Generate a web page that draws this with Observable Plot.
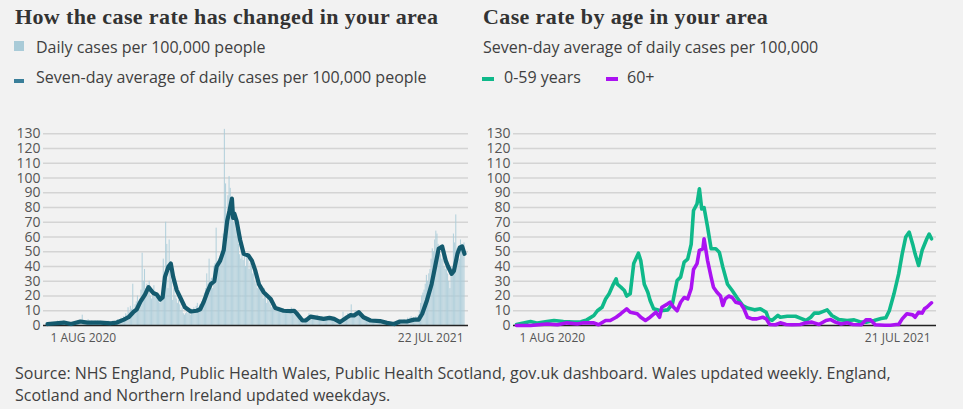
<!DOCTYPE html>
<html><head><meta charset="utf-8">
<script src="https://cdn.jsdelivr.net/npm/d3@7"></script>
<script src="https://cdn.jsdelivr.net/npm/@observablehq/plot@0.6"></script>
<style>
body{margin:0;background:#f2f2f2;}
#wrap{position:relative;width:963px;height:409px;overflow:hidden;font-family:"Open Sans","Noto Sans",sans-serif;color:#404040;}
.t{position:absolute;white-space:nowrap;font-size:16px;line-height:20px;color:#404040;}
.title{position:absolute;white-space:nowrap;font-family:"Liberation Serif",serif;font-weight:bold;font-size:22px;line-height:24px;letter-spacing:0.38px;color:#333;}
.sw{position:absolute;}
.chart{position:absolute;top:120px;}
#caption{position:absolute;left:15px;top:361.8px;width:933px;font-size:16px;line-height:22px;color:#404040;}
</style></head>
<body>
<div id="wrap">
  <div class="title" style="left:15px;top:5px">How the case rate has changed in your area</div>
  <div class="sw" id="swBar" style="left:14px;top:41px;width:10px;height:10px"></div>
  <div class="t" style="left:36px;top:37.1px">Daily cases per 100,000 people</div>
  <div class="sw" id="swAvg" style="left:14px;top:79px;width:10px;height:4px"></div>
  <div class="t" style="left:36px;top:67.1px">Seven-day average of daily cases per 100,000 people</div>

  <div class="title" style="left:483px;top:5px">Case rate by age in your area</div>
  <div class="t" style="left:483px;top:37.1px">Seven-day average of daily cases per 100,000</div>
  <div class="sw" id="swYoung" style="left:482px;top:77px;width:12px;height:4px"></div>
  <div class="t" style="left:504px;top:67.1px">0-59 years</div>
  <div class="sw" id="swOld" style="left:606px;top:77px;width:12px;height:4px"></div>
  <div class="t" style="left:627px;top:67.1px">60+</div>

  <div class="chart" id="left" style="left:0px"></div>
  <div class="chart" id="right" style="left:481px"></div>
  <div id="caption">Source: NHS England, Public Health Wales, Public Health Scotland, gov.uk dashboard. Wales updated weekly. England, Scotland and Northern Ireland updated weekdays.</div>
</div>
<script>
// ---------- data ----------
const startDate = "2020-08-01";
const yTicks = [0,10,20,30,40,50,60,70,80,90,100,110,120,130];

// daily cases per 100,000 (one per day from 1 Aug 2020 to 22 Jul 2021)
const dailyCases = [
 1,0,1,2,1,0,1,
 2,1,3,2,1,1,2,
 3,2,2,1,2,1,1,
 1,0,2,1,2,3,2,
 3,2,7,3,2,2,3,
 4,3,2,3,2,1,3,
 2,3,2,1,2,2,1,
 2,1,2,3,2,1,2,
 3,2,2,3,4,2,3,
 5,4,6,5,8,7,12,
 9,13,11,28,10,14,16,
 20,15,18,24,49,30,38,
 25,28,22,30,20,18,24,
 27,22,19,20,18,15,17,
 20,45,35,70,55,25,58,
 40,30,17,25,20,18,15,
 17,14,10,12,8,7,8,
 9,8,10,7,11,9,12,
 10,13,15,12,14,10,16,
 18,22,25,35,28,45,30,
 32,25,40,42,66,38,45,
 46,48,50,62,133,96,70,
 88,101,93,75,85,70,72,
 65,70,55,48,45,52,44,
 47,40,48,45,38,42,40,
 35,37,30,28,25,32,26,
 24,22,18,25,20,15,18,
 16,14,12,15,13,11,12,
 10,11,12,9,10,11,9,
 10,9,11,8,9,12,10,
 9,8,10,6,5,3,4,
 3,4,3,5,4,6,8,
 7,6,5,6,5,4,7,
 5,4,5,6,4,5,4,
 5,6,4,5,5,4,3,
 3,2,2,3,2,1,3,
 9,4,5,6,8,7,6,
 14,7,8,9,10,8,9,
 7,6,5,5,4,3,4,
 3,4,3,2,3,4,3,
 3,2,3,2,2,3,2,
 1,2,1,1,0,1,2,
 1,2,2,1,3,2,3,
 3,2,3,4,3,3,5,
 4,5,6,4,5,4,6,
 5,7,10,15,20,22,24,
 28,34,30,35,38,45,52,
 50,58,64,62,55,52,48,
 45,50,40,38,42,35,30,
 25,40,38,62,56,75,52,
 50,45,58,55,48,56
];

// seven-day average (day offset from 1 Aug 2020, value)
const avgDays = [0,14,20,28,34,45,54,59,65,69,73,76,79,83,86,88,90,93,96,98,100,103,105,107,110,113,117,122,127,130,133,136,139,142,144,147,150,153,155,157,158,159,161,164,167,171,174,177,180,184,190,194,201,207,210,212,217,220,224,230,235,240,244,249,255,258,261,265,269,275,283,289,295,300,306,312,316,319,323,327,330,333,336,339,341,344,346,349,351,353,355];
const avgValues = [1,2,1,2.7,2,2,1.5,2,4,5.6,9,11,16,21,26,24,22,21,17.6,19,33,40,42,33,24,19,12.4,9.5,10,11,16,22.6,28,30,40,44,51,71,78,86,73,76,71,58,48.6,47.5,44,37,28,22.6,18,11.8,10,9.7,10,8.4,3.4,3.4,6,5.2,4.5,5.2,4.5,2.3,5.6,7,6.8,9,5.6,3.4,3,1.8,1,2.7,2.7,4,4,8,17,28,40,52,53.6,44,40,35,37,48.6,53,53.6,48.6];

// by age, seven-day average (day offset from 1 Aug 2020)
const youngDays = [0,12,18,26,32,40,49,55,60,66,69,73,76,79,82,85,86,89,92,94,97,100,104,106,109,112,114,117,123,129,133,137,140,143,146,149,151,154,156,158,160,163,166,170,173,176,180,184,188,193,197,203,208,213,215,218,223,225,231,238,242,247,251,254,258,265,269,275,282,288,294,299,305,311,315,318,322,326,329,332,335,338,340,343,346,350,352,354];
const youngValues = [0.7,2.7,1.6,2.7,3.4,2.7,2.3,2.5,3.8,6.8,10,12.4,18,21.5,27,31.7,28,26,23.7,20,21.5,42,49,44,28,22.6,17,11.3,10,10.6,14.7,30.5,32.8,43,45,55,78,82.5,92.7,79,80,66.7,52,52,49.7,39.6,28,23.7,19,13.6,11.8,10.6,11.3,9,4.5,3.4,6.8,5.6,6.3,6.3,5,3.4,5.6,8.4,8.4,10.6,6.8,4,3.4,3.8,2.3,2.3,3.4,4.7,5.2,10,21.5,35,48.6,60,63.3,55,48.6,40.7,51,58.8,62,58.8];
const oldDays = [0,12,26,35,43,52,57,66,70,76,80,85,89,94,97,103,106,110,114,119,122,124,129,131,134,137,140,143,146,149,151,154,156,159,160,163,166,168,171,174,176,178,181,184,187,191,194,197,201,205,210,213,216,221,225,230,235,242,247,252,258,264,268,272,277,282,287,294,298,302,306,314,319,324,326,329,333,338,340,343,346,348,350,354];
const oldValues = [0,0,1,0.5,1.8,1,1.8,1.8,0.5,3.4,3.4,5.6,8,11.3,9,8,5.6,3.4,5.6,9,5.6,12.4,14.7,15.8,12.4,10,15.8,19,18,25,38,42,51,52,58.8,44,32.8,26,22.6,20,13.6,18,20,19,15.8,15,11.3,5.6,4.5,4.5,5.6,4.5,0.7,0.5,1.8,0.7,0.5,0.7,1.8,2.3,0.7,3.4,4,2.3,1,1.8,0.7,0.5,3.8,3.8,0.5,0.2,0.2,0.7,0.7,4.5,8,7.2,5.6,9,8.4,11.3,12.4,15.4];

const leftTickDates = ["2020-08-01","2021-07-22"];
const leftTickLabels = ["1 AUG 2020","22 JUL 2021"];
const rightTickDates = ["2020-08-01","2021-07-21"];
const rightTickLabels = ["1 AUG 2020","21 JUL 2021"];

const colors = {bar:"#a9cbd8", avgSwatch:"#3a7f9a", avg:"#145a6e", young:"#0fb98a", old:"#ab12f2"};

// ---------- build ----------
const d0 = new Date(startDate + "T00:00:00Z");
const dayToDate = d => new Date(d0.getTime() + d * 864e5);
const parse = s => new Date(s + "T00:00:00Z");

document.getElementById("swBar").style.background = colors.bar;
document.getElementById("swAvg").style.background = colors.avgSwatch;
document.getElementById("swYoung").style.background = colors.young;
document.getElementById("swOld").style.background = colors.old;

const bars = dailyCases.map((v, i) => ({x1: dayToDate(i - 0.45), x2: dayToDate(i + 0.45), v}));
const avg = avgDays.map((d, i) => ({date: dayToDate(d), v: avgValues[i]}));
const young = youngDays.map((d, i) => ({date: dayToDate(d), v: youngValues[i]}));
const old = oldDays.map((d, i) => ({date: dayToDate(d), v: oldValues[i]}));

const font = "'Open Sans', 'Noto Sans', sans-serif";

function common(ticksDates, ticksLabels) {
  const t = ticksDates.map((d, i) => ({date: parse(d), label: ticksLabels[i]}));
  return [
    Plot.ruleY(yTicks.slice(1), {stroke:"#d4d4d4", strokeWidth:1.5}),
    Plot.axisY(yTicks, {tickSize:0, tickPadding:3, fontSize:14, fill:"#555", label:null}),
    Plot.text([t[0]], {x:"date", y:0, text:"label", textAnchor:"start", dx:3, dy:13, fontSize:12, fill:"#555"}),
    Plot.text([t[1]], {x:"date", y:0, text:"label", textAnchor:"end", dx:-1, dy:13, fontSize:12, fill:"#555"})
  ];
}

const left = Plot.plot({
  width: 481, height: 230,
  marginLeft: 43, marginRight: 13, marginTop: 13.3, marginBottom: 25,
  x: {type:"utc", domain:[dayToDate(0), dayToDate(355)], insetLeft:4, insetRight:4, axis:null},
  y: {domain:[0,130], axis:null},
  style: {background:"transparent", fontFamily:font, overflow:"visible"},
  marks: [
    ...common(leftTickDates, leftTickLabels),
    Plot.rectY(bars, {x1:"x1", x2:"x2", y:"v", fill:colors.bar, fillOpacity:0.85}),
    Plot.ruleY([0], {stroke:"#222", strokeWidth:1.3}),
    Plot.line(avg, {x:"date", y:"v", stroke:colors.avg, strokeWidth:4.2, strokeLinejoin:"round", strokeLinecap:"round"})
  ]
});
document.getElementById("left").append(left);

const right = Plot.plot({
  width: 482, height: 230,
  marginLeft: 32, marginRight: 27, marginTop: 13.3, marginBottom: 25,
  x: {type:"utc", domain:[dayToDate(0), dayToDate(354)], insetLeft:3, insetRight:5, axis:null},
  y: {domain:[0,130], axis:null},
  style: {background:"transparent", fontFamily:font, overflow:"visible"},
  marks: [
    ...common(rightTickDates, rightTickLabels),
    Plot.ruleY([0], {stroke:"#222", strokeWidth:1.3}),
    Plot.line(young, {x:"date", y:"v", stroke:colors.young, strokeWidth:3.6, strokeLinejoin:"round", strokeLinecap:"round"}),
    Plot.line(old, {x:"date", y:"v", stroke:colors.old, strokeWidth:3.6, strokeLinejoin:"round", strokeLinecap:"round"})
  ]
});
document.getElementById("right").append(right);
</script>
</body></html>
